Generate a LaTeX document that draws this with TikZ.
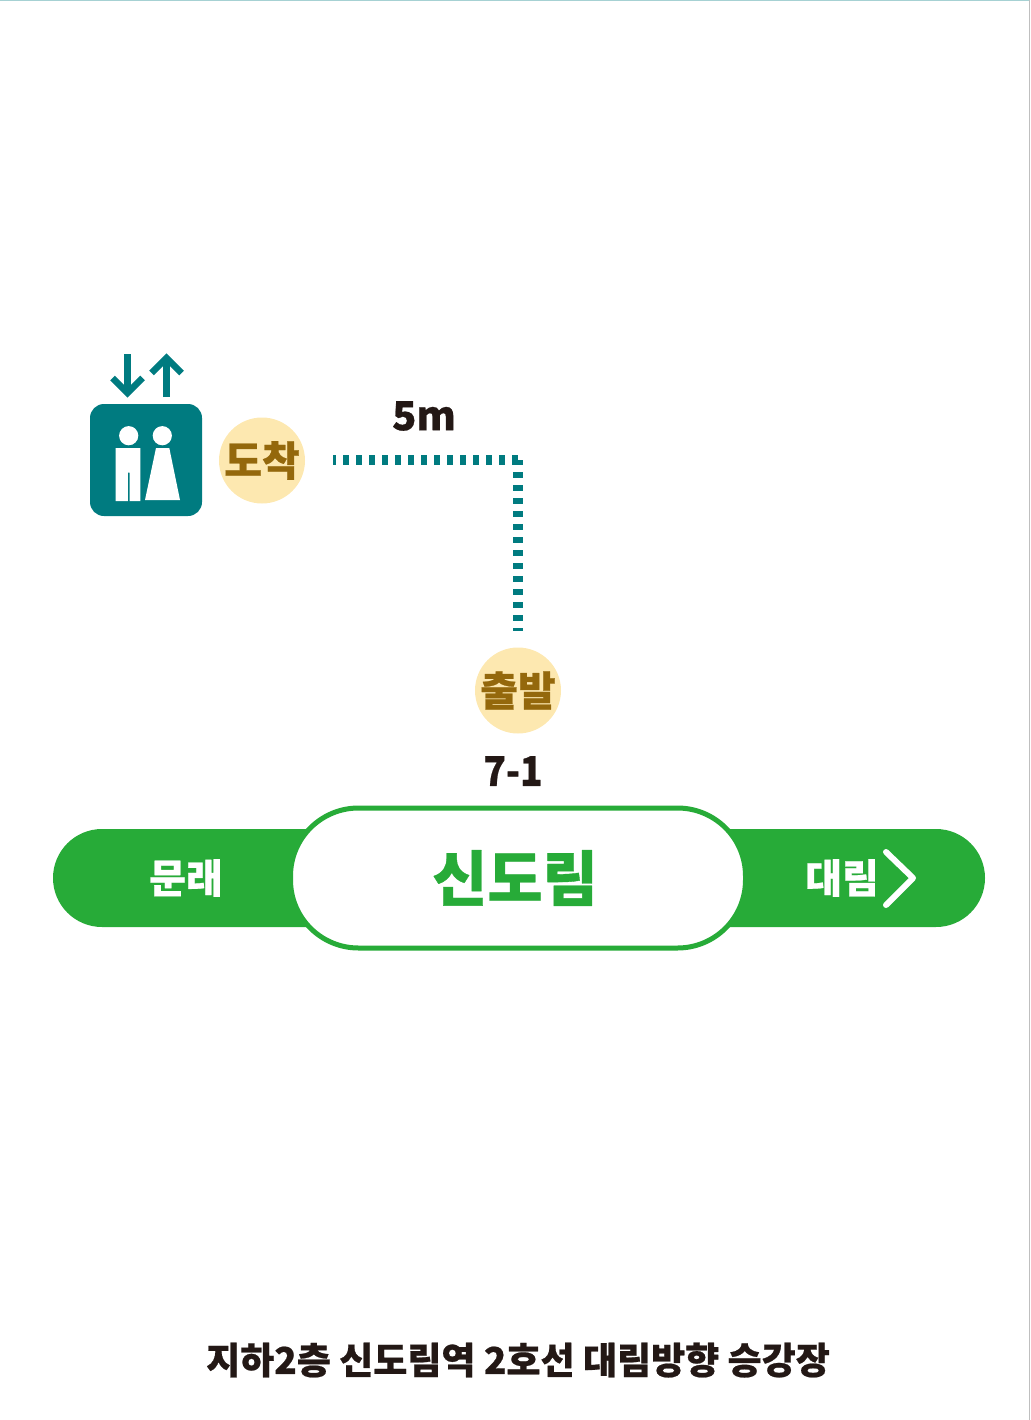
\documentclass[tikz,border=0pt]{standalone}
\usepackage{graphicx}
\usepackage{fontspec}
\setmainfont{Noto Sans CJK KR}[BoldFeatures={FakeBold=0.6}]
\definecolor{linegreen}{HTML}{27AB38}
\definecolor{liftteal}{HTML}{007B80}
\definecolor{creamfill}{HTML}{FDE8B0}
\definecolor{brownink}{HTML}{94680C}
\definecolor{darkink}{HTML}{231815}
\newcommand{\pxfont}[1]{\fontsize{#1}{#1}\selectfont\bfseries}
\tikzset{
	badge/.style={circle, fill=creamfill, minimum size=86pt, inner sep=0pt, text=brownink, font=\pxfont{41}},
	routeline/.style={liftteal, line width=10.5pt, dash pattern=on 6pt off 7pt},
	liftarrow/.style={liftteal, line width=6.5pt, line join=miter, line cap=butt},
	plainlabel/.style={inner sep=0pt, text=darkink},
	bandlabel/.style={inner sep=0pt, text=white, font=\pxfont{40}}
}
\begin{document}
\begin{tikzpicture}[x=1pt, y=-1pt, line join=round]
	\useasboundingbox (0,0) rectangle (1030,1420);
	\draw[color=liftteal!35, line width=1.5pt] (0,0.5)--(1030,0.5);
	\draw[color=black!25, line width=1.5pt] (1029.3,0)--(1029.3,1420);
	\path (333,460) coordinate (dotstart)
	(518,460) coordinate (dotturn)
	(518,631) coordinate (dotend)
	(127.5,354) coordinate (downtop)
	(127.5,393) coordinate (downtip)
	(166.5,397) coordinate (uptail)
	(166.5,358) coordinate (uptip)
	;
	% lift sign
	\node[fill=liftteal, rounded corners=14pt, minimum size=112pt, inner sep=0pt] (liftbox) at (146,460) {};
	\fill[white] (128.7,435.7) circle (9.6) (162.3,435.7) circle (9.6);
	\fill[white] (115.7,448) rectangle (127.9,501) (129.5,448) rectangle (140.3,501) (127.9,448) rectangle (129.5,472.7);
	\fill[white] (156,448)--(169.3,448)--(180,500)--(145,500)--cycle;
	\draw[liftarrow] (downtop)--(downtip);
	\draw[liftarrow] (downtip) +(-15,-15)--(downtip)--+(15,-15);
	\draw[liftarrow] (uptail)--(uptip);
	\draw[liftarrow] (uptip) +(-15,15)--(uptip)--+(15,15);
	% walking route
	\node[badge] (arrive) at (262,460.5) {도착};
	\node[badge] (depart) at (518,690.5) {출발};
	\draw[routeline, dash phase=3pt] (dotstart)--(dotturn);
	\draw[routeline, dash phase=1pt] (dotturn)--(dotend);
	\node[plainlabel, font=\pxfont{40}] (distance) at (424,416) {5m};
	\node[plainlabel, font=\pxfont{41}] (exitno) at (513,771) {\scalebox{.9}[1]{7-1}};
	% line band
	\node[fill=linegreen, rounded corners=49pt, minimum width=932pt, minimum height=98pt, inner sep=0pt] (band) at (519,878) {};
	\node[fill=white, draw=linegreen, line width=5pt, rounded corners=68pt, minimum width=455pt, minimum height=140pt, inner sep=0pt] (station) at (518,878) {};
	\node[inner sep=0pt, text=linegreen, font=\pxfont{60}] (stationname) at (515,878) {신도림};
	\node[bandlabel] (prevstop) at (186,878) {문래};
	\node[bandlabel] (nextstop) at (842,878) {대림};
	\draw[white, line width=6pt, line cap=round] (886,852)--(913,878)--(886,905);
	\node[plainlabel, font=\pxfont{37}] (caption) at (518,1360) {지하2층 신도림역 2호선 대림방향 승강장};
\end{tikzpicture}
\end{document}
